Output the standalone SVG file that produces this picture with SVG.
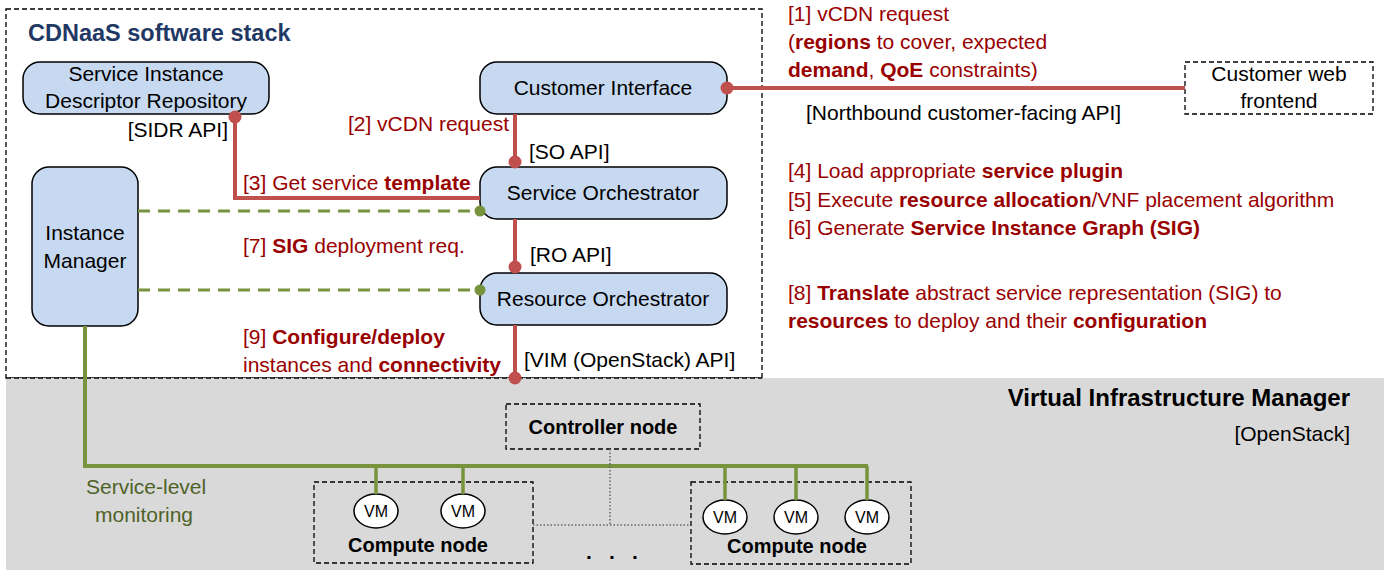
<svg xmlns="http://www.w3.org/2000/svg" width="1388" height="570" viewBox="0 0 1388 570">
<style>
text{font-family:"Liberation Sans",Arial,sans-serif;font-size:21px;fill:#000}
.b{font-weight:bold}
.r{fill:#990000}
.c{text-anchor:middle}
.e{text-anchor:end}
.box{fill:#c6d9f1;stroke:#000;stroke-width:1.5}
.dash{fill:none;stroke:#000;stroke-width:1.3;stroke-dasharray:5,3}
.red{fill:none;stroke:#c0504d;stroke-width:4}
.grn{fill:none;stroke:#77933c;stroke-width:4}
.gd{fill:none;stroke:#77933c;stroke-width:3;stroke-dasharray:12,8}
.rd{fill:#c0504d}
.gdot{fill:#77933c}
.vm{fill:#fff;stroke:#000;stroke-width:1.5}
.dot{fill:none;stroke:#666;stroke-width:1.5;stroke-dasharray:1.5,2}
</style>
<rect x="0" y="0" width="1388" height="570" fill="#fff"/>
<g id="cdnaas-stack">
<rect x="6" y="9" width="756" height="369" fill="#e9eef6" class="dash"/>
<text x="28" y="41" class="b" style="font-size:23.5px;fill:#1f3864">CDNaaS software stack</text>
</g>
<g id="vim">
<rect x="6" y="378" width="1378" height="192" fill="#d9d9d9"/>
<line x1="6" y1="378" x2="762" y2="378" class="dash"/>
<text x="1350" y="406" class="b e" style="font-size:24px">Virtual Infrastructure Manager</text>
<text x="1350" y="441" class="e">[OpenStack]</text>
</g>
<g id="sidr">
<rect x="23" y="62" width="246" height="52" rx="17" class="box"/>
<text x="146" y="81" class="c">Service Instance</text>
<text x="146" y="108" class="c">Descriptor Repository</text>
<text x="228" y="137" class="e">[SIDR API]</text>
</g>
<g id="customer-interface">
<rect x="480" y="62" width="247" height="52" rx="17" class="box"/>
<text x="603" y="95" class="c">Customer Interface</text>
</g>
<g id="service-orchestrator">
<rect x="480" y="167" width="247" height="52" rx="17" class="box"/>
<text x="603" y="200" class="c">Service Orchestrator</text>
<text x="529" y="159">[SO API]</text>
</g>
<g id="resource-orchestrator">
<rect x="480" y="273" width="247" height="52" rx="17" class="box"/>
<text x="603" y="306" class="c">Resource Orchestrator</text>
<text x="530" y="262">[RO API]</text>
</g>
<g id="instance-manager">
<rect x="32" y="167" width="106" height="159" rx="17" class="box"/>
<text x="85" y="240" class="c">Instance</text>
<text x="85" y="268" class="c">Manager</text>
</g>
<g id="customer-web-frontend">
<rect x="1185" y="62" width="188" height="52" class="dash" fill="#fff"/>
<text x="1279" y="81" class="c">Customer web</text>
<text x="1279" y="108" class="c">frontend</text>
</g>
<g id="controller-node">
<rect x="506" y="404" width="194" height="45" class="dash"/>
<text x="603" y="434" class="b c" style="font-size:20px">Controller node</text>
</g>
<g id="compute-node-1">
<rect x="314" y="482" width="219" height="81" class="dash"/>
<ellipse cx="376" cy="511" rx="22" ry="17" class="vm"/>
<ellipse cx="463" cy="511" rx="22" ry="17" class="vm"/>
<text x="376" y="517" class="c" style="font-size:16px">VM</text>
<text x="463" y="517" class="c" style="font-size:16px">VM</text>
<text x="418" y="552" class="b c" style="font-size:20px">Compute node</text>
</g>
<g id="compute-node-2">
<rect x="691" y="482" width="220" height="82" class="dash"/>
<ellipse cx="725" cy="517" rx="22" ry="17" class="vm"/>
<ellipse cx="796" cy="517" rx="22" ry="17" class="vm"/>
<ellipse cx="867" cy="517" rx="22" ry="17" class="vm"/>
<text x="725" y="523" class="c" style="font-size:16px">VM</text>
<text x="796" y="523" class="c" style="font-size:16px">VM</text>
<text x="867" y="523" class="c" style="font-size:16px">VM</text>
<text x="797" y="553" class="b c" style="font-size:20px">Compute node</text>
</g>
<g id="connectors">
<polyline points="235,117 235,198 480,198" class="red"/>
<line x1="727" y1="88" x2="1185" y2="88" class="red"/>
<line x1="515" y1="114" x2="515" y2="162" class="red"/>
<line x1="515" y1="219" x2="515" y2="267" class="red"/>
<line x1="515" y1="325" x2="515" y2="378" class="red"/>
<line x1="138" y1="211" x2="480" y2="211" class="gd"/>
<line x1="138" y1="290" x2="480" y2="290" class="gd"/>
<polyline points="85,326 85,466 868,466" class="grn"/>
<line x1="376" y1="466" x2="376" y2="494" class="grn" style="stroke-width:3.5"/>
<line x1="463" y1="466" x2="463" y2="494" class="grn" style="stroke-width:3.5"/>
<line x1="725" y1="466" x2="725" y2="500" class="grn" style="stroke-width:3.5"/>
<line x1="796" y1="466" x2="796" y2="500" class="grn" style="stroke-width:3.5"/>
<line x1="867" y1="466" x2="867" y2="500" class="grn" style="stroke-width:3.5"/>
<polyline points="610,449 610,525" class="dot"/>
<line x1="533" y1="525" x2="691" y2="525" class="dot"/>
<circle cx="235" cy="117" r="6.5" class="rd"/>
<circle cx="727" cy="88" r="6.5" class="rd"/>
<circle cx="515" cy="162" r="6.5" class="rd"/>
<circle cx="515" cy="267" r="6.5" class="rd"/>
<circle cx="515" cy="378" r="6.5" class="rd"/>
<circle cx="480" cy="211" r="5.5" class="gdot"/>
<circle cx="480" cy="290" r="5.5" class="gdot"/>
</g>
<g id="labels">
<text x="788" y="21" class="r">[1] vCDN request</text>
<text x="788" y="49" class="r">(<tspan class="b">regions</tspan> to cover, expected</text>
<text x="788" y="77" class="r"><tspan class="b">demand</tspan>, <tspan class="b">QoE</tspan> constraints)</text>
<text x="806" y="120">[Northbound customer-facing API]</text>
<text x="509" y="131" class="r e">[2] vCDN request</text>
<text x="243" y="190" class="r">[3] Get service <tspan class="b">template</tspan></text>
<text x="788" y="178" class="r">[4] Load appropriate <tspan class="b">service plugin</tspan></text>
<text x="788" y="207" class="r">[5] Execute <tspan class="b">resource allocation</tspan>/VNF placement algorithm</text>
<text x="788" y="235" class="r">[6] Generate <tspan class="b">Service Instance Graph (SIG)</tspan></text>
<text x="243" y="253" class="r">[7] <tspan class="b">SIG</tspan> deployment req.</text>
<text x="788" y="300" class="r">[8] <tspan class="b">Translate</tspan> abstract service representation (SIG) to</text>
<text x="788" y="328" class="r"><tspan class="b">resources</tspan> to deploy and their <tspan class="b">configuration</tspan></text>
<text x="243" y="344" class="r">[9] <tspan class="b">Configure/deploy</tspan></text>
<text x="243" y="372" class="r">instances and <tspan class="b">connectivity</tspan></text>
<text x="524" y="367">[VIM (OpenStack) API]</text>
<text x="86" y="494" style="fill:#4f6228">Service-level</text>
<text x="95" y="522" style="fill:#4f6228">monitoring</text>
<text y="559" class="b c"><tspan x="589">.</tspan><tspan x="612">.</tspan><tspan x="635">.</tspan></text>
</g>
</svg>
